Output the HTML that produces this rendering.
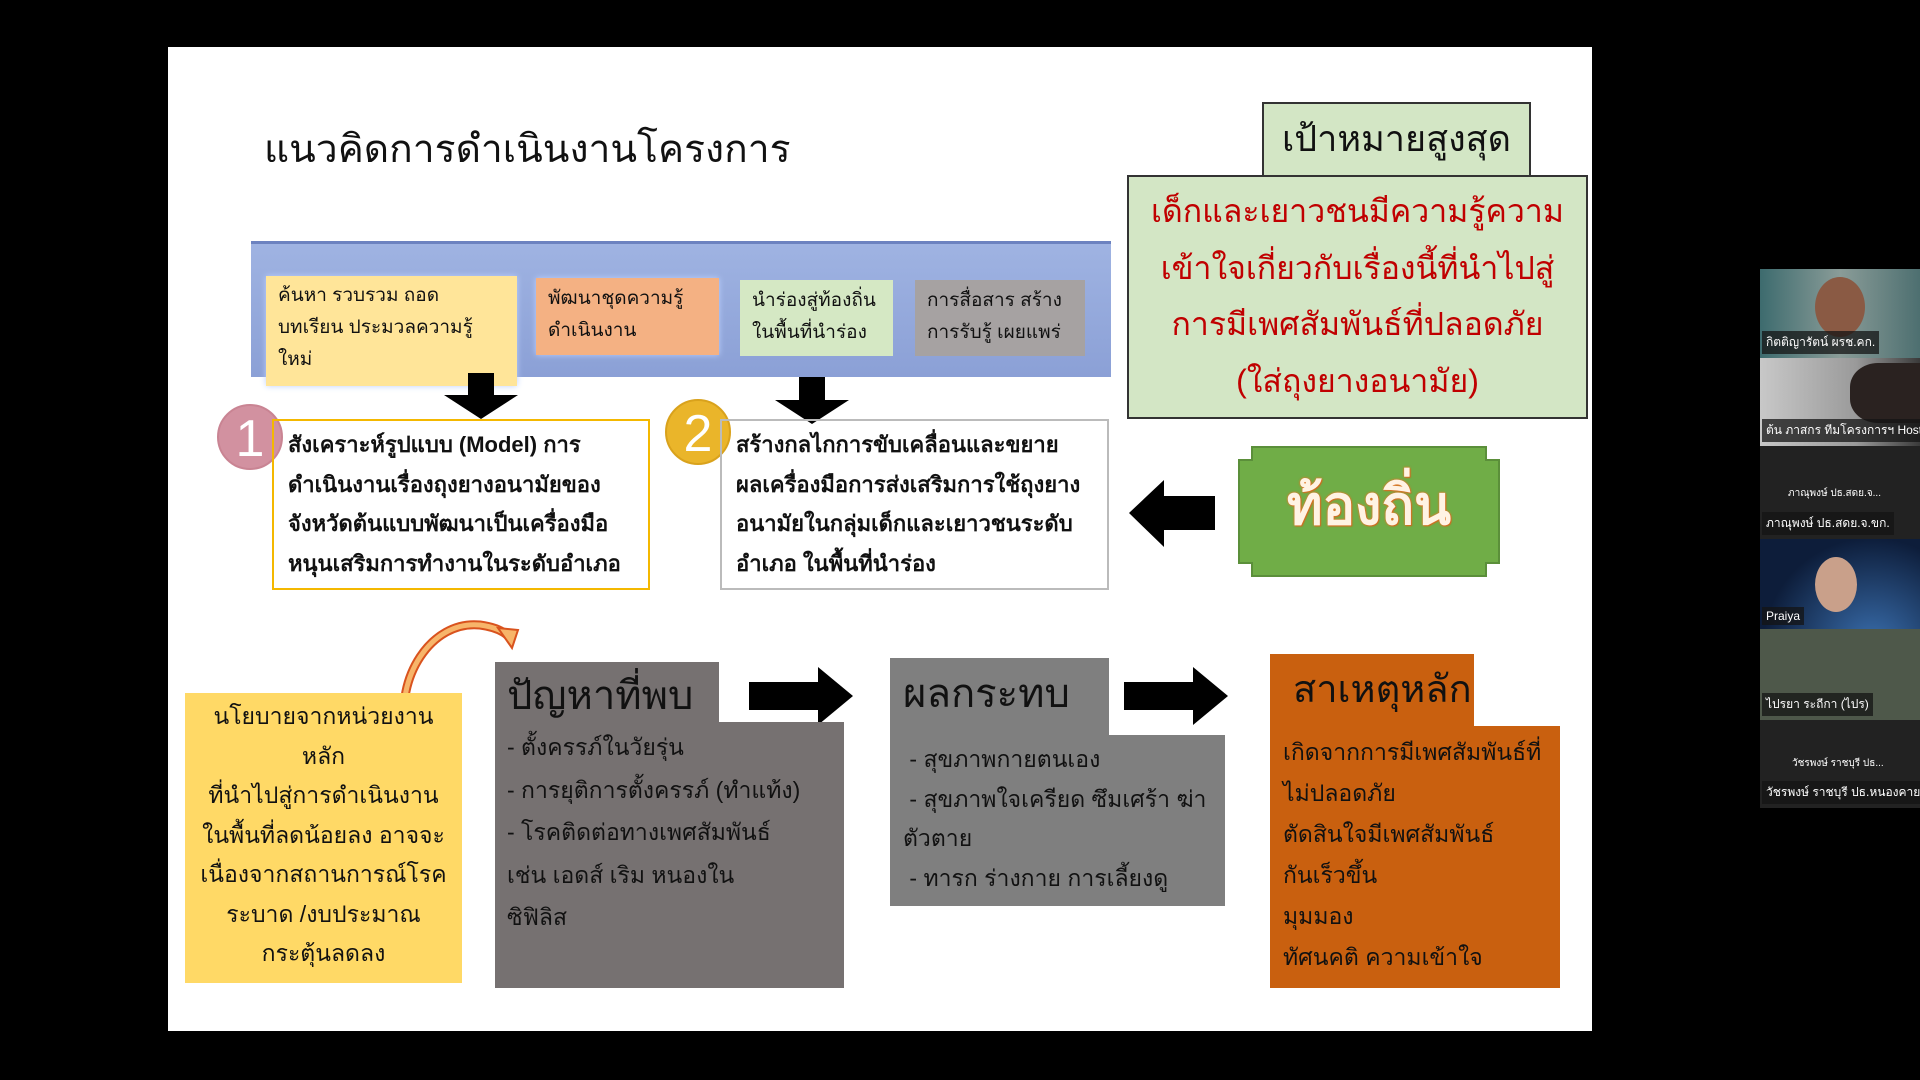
<!DOCTYPE html>
<html><head><meta charset="utf-8"><style>
*{margin:0;padding:0;box-sizing:border-box}
body{width:1920px;height:1080px;background:#000;position:relative;overflow:hidden;font-family:"Liberation Sans","DejaVu Sans","Noto Sans CJK SC",sans-serif;color:#111}
.a{position:absolute}
.t{white-space:nowrap}
.lbl{position:absolute;left:2px;bottom:4px;background:rgba(20,20,20,.75);color:#fff;font-size:12px;padding:2px 4px;white-space:nowrap}
</style></head><body>
<div class="a" style="left:168px;top:47px;width:1424px;height:984px;background:#fff"></div>
<div class="a t" style="left:264px;top:118px;font-size:39px;">แนวคิดการดำเนินงานโครงการ</div>

<div class="a" style="left:251px;top:241px;width:860px;height:136px;background:linear-gradient(#9fb3e2,#8ba0d6);border-top:3px solid #6c82c0"></div>
<div class="a" style="left:266px;top:276px;width:251px;height:110px;background:#ffe599;box-shadow:0 0 6px #bcd0ff;font-size:19px;line-height:32px;padding:4px 12px">ค้นหา รวบรวม ถอด<br>บทเรียน ประมวลความรู้<br>ใหม่</div>
<div class="a" style="left:536px;top:278px;width:183px;height:77px;background:#f4b183;box-shadow:0 0 6px #bcd0ff;font-size:19px;line-height:32px;padding:5px 12px">พัฒนาชุดความรู้<br>ดำเนินงาน</div>
<div class="a" style="left:740px;top:280px;width:153px;height:76px;background:#d5e8c4;font-size:19px;line-height:32px;padding:5px 12px">นำร่องสู่ท้องถิ่น<br>ในพื้นที่นำร่อง</div>
<div class="a" style="left:915px;top:280px;width:170px;height:76px;background:#a6a2a2;font-size:19px;line-height:32px;padding:5px 12px">การสื่อสาร สร้าง<br>การรับรู้ เผยแพร่</div>

<svg class="a" style="left:0;top:0" width="1920" height="1080">
<polygon points="468,373 494,373 494,395 518,395 481,419 444,395 468,395" fill="#000"/>
<polygon points="799,377 825,377 825,400 849,400 812,424 775,400 799,400" fill="#000"/>
<polygon points="1215,496 1164,496 1164,480 1129,513 1164,547 1164,530 1215,530" fill="#000"/>
<polygon points="749,682 818,682 818,667 853,696 818,725 818,710 749,710" fill="#000"/>
<polygon points="1124,682 1193,682 1193,667 1228,696 1193,725 1193,710 1124,710" fill="#000"/>
<path d="M406,730 C395,680 430,620 480,625 C495,627 505,632 510,638" fill="none" stroke="#d9531e" stroke-width="9"/>
<path d="M406,730 C395,680 430,620 480,625 C495,627 505,632 510,638" fill="none" stroke="#f7b56a" stroke-width="5"/>
<polygon points="498,628 518,630 512,648" fill="#f7b56a" stroke="#d9531e" stroke-width="2"/>
<polygon points="1252,447 1486,447 1486,460 1499,460 1499,563 1486,563 1486,576 1252,576 1252,563 1239,563 1239,460 1252,460" fill="#70ad47" stroke="#5b8f3a" stroke-width="2"/>
<circle cx="250" cy="437" r="32" fill="#d291a0" stroke="#c98493" stroke-width="2"/>
<circle cx="698" cy="432" r="32" fill="#eab52a" stroke="#d9a21c" stroke-width="2"/>
<text x="250" y="456" font-size="52" fill="#fff" text-anchor="middle" font-family="Liberation Sans">1</text>
<text x="698" y="451" font-size="52" fill="#fff" text-anchor="middle" font-family="Liberation Sans">2</text>
</svg>

<div class="a" style="left:272px;top:419px;width:378px;height:171px;border:2px solid #f4b800;font-size:22px;font-weight:bold;line-height:39.5px;padding:4px 0 0 14px;white-space:nowrap">สังเคราะห์รูปแบบ (Model) การ<br>ดำเนินงานเรื่องถุงยางอนามัยของ<br>จังหวัดต้นแบบพัฒนาเป็นเครื่องมือ<br>หนุนเสริมการทำงานในระดับอำเภอ</div>
<div class="a" style="left:720px;top:419px;width:389px;height:171px;border:2px solid #bbb;font-size:22px;font-weight:bold;line-height:39.5px;padding:4px 0 0 14px;white-space:nowrap">สร้างกลไกการขับเคลื่อนและขยาย<br>ผลเครื่องมือการส่งเสริมการใช้ถุงยาง<br>อนามัยในกลุ่มเด็กและเยาวชนระดับ<br>อำเภอ ในพื้นที่นำร่อง</div>

<div class="a t" style="left:1239px;top:476px;width:260px;text-align:center;font-size:54px;font-weight:bold;color:#fff3e4;text-shadow:0 0 2px #e07a2a,0 0 2px #e07a2a,1px 1px 1px #c85f1a;line-height:60px">ท้องถิ่น</div>

<div class="a" style="left:1262px;top:102px;width:269px;height:75px;background:#d3e6c5;border:2px solid #333;text-align:center;font-size:36px;line-height:70px">เป้าหมายสูงสุด</div>
<div class="a" style="left:1127px;top:175px;width:461px;height:244px;background:#d3e6c5;border:2px solid #333;text-align:center;font-size:32px;line-height:56.5px;color:#c00000;padding-top:6px;white-space:nowrap">เด็กและเยาวชนมีความรู้ความ<br>เข้าใจเกี่ยวกับเรื่องนี้ที่นำไปสู่<br>การมีเพศสัมพันธ์ที่ปลอดภัย<br>(ใส่ถุงยางอนามัย)</div>

<div class="a" style="left:185px;top:693px;width:277px;height:290px;background:#ffd966;text-align:center;font-size:23px;line-height:39.5px;padding-top:4px;white-space:nowrap">นโยบายจากหน่วยงาน<br>หลัก<br>ที่นำไปสู่การดำเนินงาน<br>ในพื้นที่ลดน้อยลง อาจจะ<br>เนื่องจากสถานการณ์โรค<br>ระบาด /งบประมาณ<br>กระตุ้นลดลง</div>

<div class="a" style="left:495px;top:662px;width:224px;height:62px;background:#767171"></div>
<div class="a" style="left:495px;top:722px;width:349px;height:266px;background:#767171"></div>
<div class="a t" style="left:507px;top:670px;font-size:40px;line-height:52px">ปัญหาที่พบ</div>
<div class="a t" style="left:507px;top:726px;font-size:23px;line-height:42.5px">- ตั้งครรภ์ในวัยรุ่น<br>- การยุติการตั้งครรภ์ (ทำแท้ง)<br>- โรคติดต่อทางเพศสัมพันธ์<br>เช่น เอดส์ เริม หนองใน<br>ซิฟิลิส</div>

<div class="a" style="left:890px;top:658px;width:219px;height:78px;background:#7f7f7f"></div>
<div class="a" style="left:890px;top:735px;width:335px;height:171px;background:#7f7f7f"></div>
<div class="a t" style="left:903px;top:668px;font-size:40px;line-height:52px">ผลกระทบ</div>
<div class="a t" style="left:903px;top:740px;font-size:23px;line-height:39.5px">&nbsp;- สุขภาพกายตนเอง<br>&nbsp;- สุขภาพใจเครียด ซึมเศร้า ฆ่า<br>ตัวตาย<br>&nbsp;- ทารก ร่างกาย การเลี้ยงดู</div>

<div class="a" style="left:1270px;top:654px;width:204px;height:74px;background:#c9600f"></div>
<div class="a" style="left:1270px;top:726px;width:290px;height:262px;background:#c9600f"></div>
<div class="a t" style="left:1293px;top:664px;font-size:38px;line-height:52px">สาเหตุหลัก</div>
<div class="a t" style="left:1283px;top:732px;font-size:23px;line-height:41px">เกิดจากการมีเพศสัมพันธ์ที่<br>ไม่ปลอดภัย<br>ตัดสินใจมีเพศสัมพันธ์<br>กันเร็วขึ้น<br>มุมมอง<br>ทัศนคติ ความเข้าใจ</div>

<div class="a" style="left:1760px;top:269px;width:160px;height:89px;background:linear-gradient(90deg,#3d6b6e,#8a9c98 50%,#4d6f70)"><div class="a" style="left:55px;top:8px;width:50px;height:60px;border-radius:50%;background:#8a5a44"></div><div class="lbl">กิตติญารัตน์ ผรช.คก.</div></div>
<div class="a" style="left:1760px;top:358px;width:160px;height:88px;background:linear-gradient(90deg,#c8c8c8,#9a9a9a 60%,#3a3a3a)"><div class="a" style="left:90px;top:5px;width:70px;height:60px;border-radius:40% 0 0 40%;background:#2a2220"></div><div class="lbl">ต้น ภาสกร ทีมโครงการฯ Host</div></div>
<div class="a" style="left:1760px;top:446px;width:160px;height:93px;background:#222"><div class="a t" style="left:28px;top:40px;color:#fff;font-size:10px">ภาณุพงษ์ ปธ.สดย.จ...</div><div class="lbl">ภาณุพงษ์ ปธ.สดย.จ.ขก.</div></div>
<div class="a" style="left:1760px;top:539px;width:160px;height:90px;background:radial-gradient(circle at 70% 120%,#3a6fae,#0d1d3a 70%)"><div class="a" style="left:55px;top:18px;width:42px;height:55px;border-radius:50%;background:#c9a08a"></div><div class="lbl">Praiya</div></div>
<div class="a" style="left:1760px;top:629px;width:160px;height:91px;background:#4e584a"><div class="lbl">ไปรยา ระถีกา (ไปร)</div></div>
<div class="a" style="left:1760px;top:720px;width:160px;height:88px;background:#222"><div class="a t" style="left:32px;top:36px;color:#fff;font-size:10px">วัชรพงษ์ ราชบุรี ปธ...</div><div class="lbl">วัชรพงษ์ ราชบุรี ปธ.หนองคาย</div></div>
</body></html>
